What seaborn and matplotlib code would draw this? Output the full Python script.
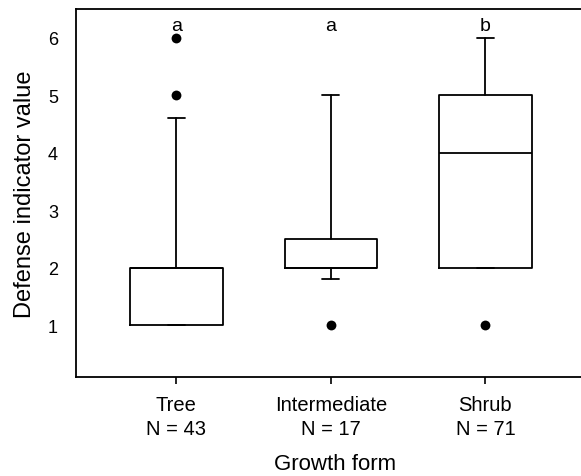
import matplotlib
matplotlib.use("Agg")
import matplotlib.pyplot as plt
import seaborn as sns
import pandas as pd

# growth forms and per-group summary statistics
groups = ["Tree", "Intermediate", "Shrub"]
n_obs = [43, 17, 71]
q1 = [1.0, 2.0, 2.0]
median = [2.0, 2.0, 4.0]
q3 = [2.0, 2.5, 5.0]
whisker_low = [1.0, 1.8, 2.0]
whisker_high = [4.6, 5.0, 6.0]
letters = ["a", "a", "b"]

# outliers beyond the whiskers
outlier_group = ["Tree", "Tree", "Intermediate", "Shrub"]
outlier_value = [5.0, 6.0, 1.0, 1.0]

sns.set_style("ticks")
plt.rcParams['font.family'] = ['Liberation Sans', 'DejaVu Sans']
plt.rcParams['text.color'] = 'black'
plt.rcParams['axes.labelcolor'] = 'black'
plt.rcParams['xtick.color'] = 'black'
plt.rcParams['ytick.color'] = 'black'

fig = plt.figure(figsize=(5.81, 4.77), dpi=100)
# right edge pushed past the figure so the right spine is not visible
ax = fig.add_axes([76 / 581, 1 - 378 / 477, 517.6 / 581, 368 / 477])

stats = []
for i, g in enumerate(groups):
    stats.append(dict(label=g, q1=q1[i], med=median[i], q3=q3[i],
                      whislo=whisker_low[i], whishi=whisker_high[i], fliers=[]))

line = dict(color="black", linewidth=1.3)
ax.bxp(stats, positions=range(len(groups)), widths=0.6, showfliers=False,
       boxprops=line, medianprops=line, whiskerprops=line, capprops=line,
       capwidths=0.11, patch_artist=False)

pos = {g: i for i, g in enumerate(groups)}
df = pd.DataFrame({"x": [pos[g] for g in outlier_group], "y": outlier_value})
sns.scatterplot(data=df, x="x", y="y", ax=ax, color="black", s=50,
                edgecolor="black", linewidth=0, legend=False, zorder=3)

for i, t in enumerate(letters):
    ax.text(i, 6.22, t, ha="center", va="center", fontsize=14)

ax.set_xlim(-0.65, 2.7)
ax.set_ylim(0.1, 6.5)
ax.set_yticks([1, 2, 3, 4, 5, 6])
ax.set_xticks(range(len(groups)))
ax.set_xticklabels([f"{g}\nN = {n}" for g, n in zip(groups, n_obs)], fontsize=14.5,
                   linespacing=1.3)
ax.tick_params(axis="y", labelsize=13, length=0, pad=13)
ax.tick_params(axis="x", length=5, width=1.2, pad=8)
ax.set_xlabel("Growth form", fontsize=16, labelpad=11)
ax.set_ylabel("Defense indicator value", fontsize=17, labelpad=8.5)
for s in ax.spines.values():
    s.set_linewidth(1.3)
    s.set_color("black")

fig.savefig("out.png", dpi=100)
